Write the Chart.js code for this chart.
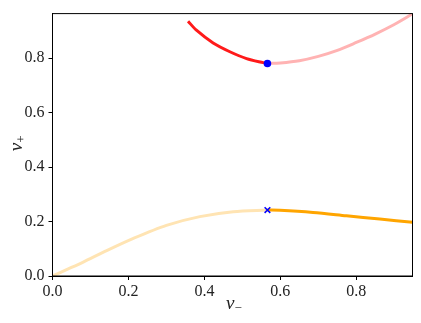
<!DOCTYPE html>
<html>
<head>
<meta charset="utf-8">
<script src="https://cdn.jsdelivr.net/npm/chart.js@4"></script>
<style>
    html, body { margin: 0; padding: 0; background: #fff; }
    #wrap { width: 421px; height: 323px; }
</style>
</head>
<body>
<div id="wrap"><canvas id="graphique"></canvas></div>
<script>
// valeurs
const xTicks = [0.0, 0.2, 0.4, 0.6, 0.8];
const yTicks = [0.0, 0.2, 0.4, 0.6, 0.8];

const rougeX = [0.357, 0.379, 0.423, 0.467, 0.511, 0.555, 0.566];
const rougeY = [0.935, 0.902, 0.855, 0.823, 0.798, 0.783, 0.780];

const roseX = [0.566, 0.600, 0.650, 0.700, 0.750, 0.800, 0.850, 0.900, 0.948];
const roseY = [0.780, 0.782, 0.790, 0.806, 0.828, 0.857, 0.888, 0.923, 0.962];

const orangePaleX = [0.0, 0.040, 0.081, 0.138, 0.213, 0.300, 0.388, 0.476, 0.566];
const orangePaleY = [0.0, 0.025, 0.051, 0.090, 0.138, 0.186, 0.218, 0.236, 0.242];

const orangeX = [0.566, 0.599, 0.686, 0.774, 0.862, 0.948];
const orangeY = [0.242, 0.241, 0.233, 0.221, 0.209, 0.197];

const pointRouge = { x: 0.566, y: 0.780 };
const pointOrange = { x: 0.566, y: 0.242 };

const police = "'Liberation Serif', serif";
Chart.defaults.font.family = police;
Chart.defaults.font.size = 16;
Chart.defaults.color = '#222';

function serie(xs, ys) {
    return xs.map((x, i) => ({ x: x, y: ys[i] }));
}

function ligne(xs, ys, couleur) {
    return {
        data: serie(xs, ys),
        showLine: true,
        borderColor: couleur,
        borderWidth: 3,
        pointRadius: 0,
        tension: 0.3,
        fill: false
    };
}

// cadre + titres d'axes avec indice
const cadre = {
    id: 'cadre',
    afterDraw(chart) {
        const { ctx, chartArea: a } = chart;
        ctx.save();
        ctx.strokeStyle = '#000';
        ctx.lineWidth = 1;
        ctx.strokeRect(a.left, a.top, a.right - a.left, a.bottom - a.top);

        ctx.fillStyle = '#222';
        ctx.textBaseline = 'alphabetic';
        // axe x : v_-
        const cx = (a.left + a.right) / 2;
        ctx.font = 'italic 19px ' + police;
        ctx.textAlign = 'right';
        ctx.fillText('v', cx + 2, 309);
        ctx.font = '13px ' + police;
        ctx.textAlign = 'left';
        ctx.fillText('−', cx + 2, 312);

        // axe y : v_+
        const cy = (a.top + a.bottom) / 2;
        ctx.translate(22, cy);
        ctx.rotate(-Math.PI / 2);
        ctx.font = 'italic 19px ' + police;
        ctx.textAlign = 'right';
        ctx.fillText('v', 2, 0);
        ctx.font = '13px ' + police;
        ctx.textAlign = 'left';
        ctx.fillText('+', 2, 3);
        ctx.restore();
    }
};

const ctx = document.getElementById('graphique').getContext('2d');
new Chart(ctx, {
    type: 'scatter',
    data: {
        datasets: [
            {
                data: [pointRouge],
                pointRadius: 3.8,
                pointStyle: 'circle',
                backgroundColor: '#0000ff',
                borderColor: '#0000ff',
                borderWidth: 0
            },
            {
                data: [pointOrange],
                pointRadius: 4,
                pointStyle: 'crossRot',
                borderColor: '#0000ff',
                borderWidth: 1.5
            },
            ligne(rougeX, rougeY, '#ff1a1a'),
            ligne(roseX, roseY, '#ffb3b3'),
            ligne(orangeX, orangeY, '#ffa500'),
            ligne(orangePaleX, orangePaleY, '#ffe4b3')
        ]
    },
    options: {
        responsive: true,
        maintainAspectRatio: false,
        animation: false,
        layout: { padding: { top: 6.7, right: 8.5, left: 0, bottom: 0 } },
        plugins: { legend: { display: false }, tooltip: { enabled: false } },
        scales: {
            x: {
                type: 'linear',
                min: 0,
                max: 0.948,
                afterBuildTicks: s => { s.ticks = xTicks.map(v => ({ value: v })); },
                afterFit: s => { s.height = 323 - 276; },
                ticks: {
                    callback: v => v.toFixed(1),
                    color: '#222',
                    padding: 2,
                    font: { family: police, size: 16 }
                },
                grid: { drawOnChartArea: false, tickLength: 4, tickColor: '#000', color: '#000' },
                border: { color: '#000', width: 1 }
            },
            y: {
                type: 'linear',
                min: 0,
                max: 0.963,
                afterBuildTicks: s => { s.ticks = yTicks.map(v => ({ value: v })); },
                afterFit: s => { s.width = 52.5; },
                ticks: {
                    callback: v => v.toFixed(1),
                    color: '#222',
                    padding: 4,
                    font: { family: police, size: 16 }
                },
                grid: { drawOnChartArea: false, tickLength: 4, tickColor: '#000', color: '#000' },
                border: { color: '#000', width: 1 }
            }
        }
    },
    plugins: [cadre]
});
</script>
</body>
</html>
